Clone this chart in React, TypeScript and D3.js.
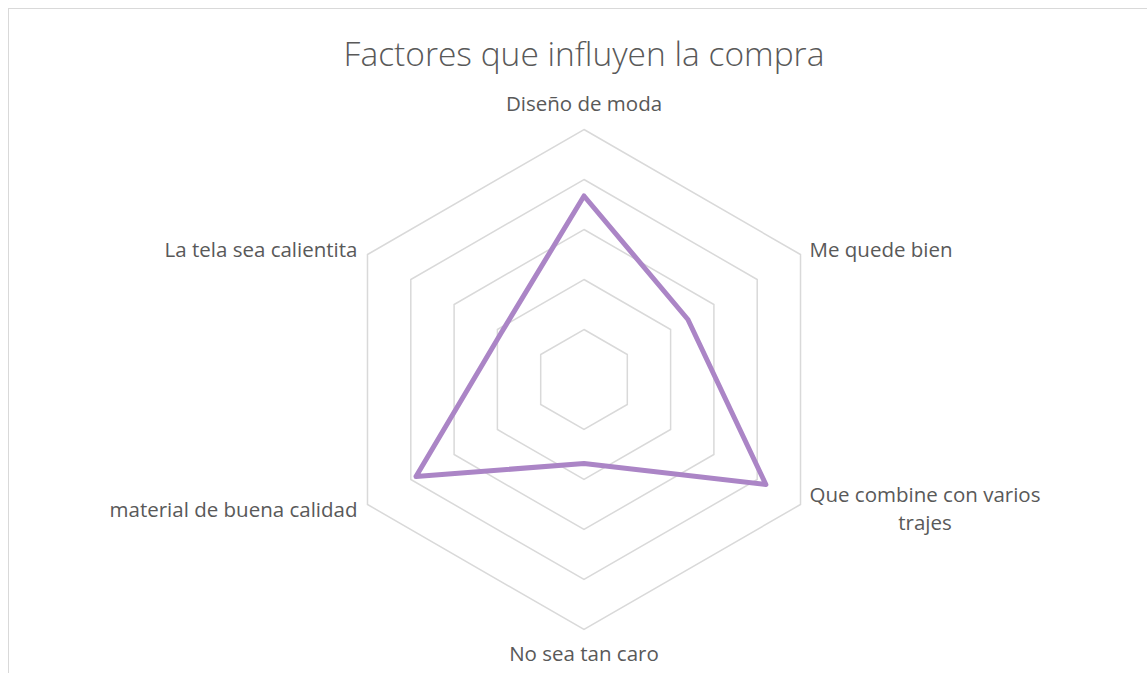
import React, { useEffect, useRef } from 'react';
import * as d3 from 'd3';

// categories, clockwise from the top
const categories = [
  ['Diseño de moda'],
  ['Me quede bien'],
  ['Que combine con varios', 'trajes'],
  ['No sea tan caro'],
  ['material de buena calidad'],
  ['La tela sea calientita'],
];
const values = [3.67, 2.4, 4.2, 1.68, 3.88, 1.9];
const ringTicks = [1, 2, 3, 4, 5];

const title = 'Factores que influyen la compra';

function RadarChart() {
  const svgRef = useRef<SVGSVGElement>(null);

  useEffect(() => {
    const svg = d3.select(svgRef.current);
    svg.selectAll('*').remove();

    const width = 1147;
    const height = 673;
    const cx = 584;
    const cy = 379.5;
    const R = 250;
    const font = "'Open Sans', 'Noto Sans', sans-serif";
    const textColor = '#595959';

    const r = d3.scaleLinear().domain([0, 5]).range([0, R]);
    const angle = d3
      .scalePoint<number>()
      .domain(d3.range(categories.length + 1))
      .range([0, 2 * Math.PI]);

    const pt = (i: number, v: number): [number, number] => {
      const a = angle(i)!;
      return [cx + r(v) * Math.sin(a), cy - r(v) * Math.cos(a)];
    };

    // chart area border
    svg
      .append('rect')
      .attr('x', 8.5)
      .attr('y', 8.5)
      .attr('width', width + 20)
      .attr('height', height + 20)
      .attr('fill', '#fff')
      .attr('stroke', '#d9d9d9')
      .attr('stroke-width', 1);

    svg
      .append('text')
      .attr('x', cx)
      .attr('y', 66)
      .attr('text-anchor', 'middle')
      .attr('font-family', font)
      .attr('font-size', 33.5)
      .attr('font-weight', 300)
      .attr('fill', textColor)
      .text(title);

    // grid rings
    const ringLine = d3.line<[number, number]>();
    svg
      .append('g')
      .selectAll('path')
      .data(ringTicks)
      .enter()
      .append('path')
      .attr('d', (t) => ringLine(categories.map((_, i) => pt(i, t)))! + 'Z')
      .attr('fill', 'none')
      .attr('stroke', '#d9d9d9')
      .attr('stroke-width', 1.5);

    // series
    const seriesLine = d3
      .line<number>()
      .x((d, i) => pt(i, d)[0])
      .y((d, i) => pt(i, d)[1])
      .curve(d3.curveLinearClosed);
    svg
      .append('path')
      .datum(values)
      .attr('d', seriesLine)
      .attr('fill', 'none')
      .attr('stroke', '#ab85c6')
      .attr('stroke-width', 5)
      .attr('stroke-linejoin', 'round');

    // category labels
    const labels = svg.append('g').attr('font-family', font).attr('font-size', 20.5).attr('fill', textColor);
    categories.forEach((lines, i) => {
      const [x, y] = pt(i, 5);
      const s = Math.sin(angle(i)!);
      const c = Math.cos(angle(i)!);
      const g = labels.append('text');
      if (Math.abs(s) < 0.01) {
        g.attr('text-anchor', 'middle')
          .attr('x', x)
          .attr('y', c > 0 ? y - 19 : y + 31)
          .text(lines[0]);
        return;
      }
      const right = s > 0;
      const baseY = c > 0 ? y + 2 : y + 12;
      if (lines.length === 1) {
        g.attr('text-anchor', right ? 'start' : 'end')
          .attr('x', right ? x + 9 : x - 10)
          .attr('y', baseY)
          .text(lines[0]);
        return;
      }
      // wrapped label: lines centred on the first one
      const first = g.append('tspan').attr('x', x + 9).attr('y', baseY - 15).text(lines[0]);
      const w = (first.node() as SVGTSpanElement).getComputedTextLength();
      g.attr('text-anchor', 'middle');
      first.attr('x', x + 9 + w / 2);
      lines.slice(1).forEach((l, k) => {
        g.append('tspan')
          .attr('x', x + 9 + w / 2)
          .attr('y', baseY - 15 + 28 * (k + 1))
          .text(l);
      });
    });
  }, []);

  return <svg ref={svgRef} width={1147} height={673} style={{ display: 'block' }}></svg>;
}

export default function App() {
  return (
    <div style={{ position: 'absolute', left: 0, top: 0 }}>
      <RadarChart />
    </div>
  );
}
